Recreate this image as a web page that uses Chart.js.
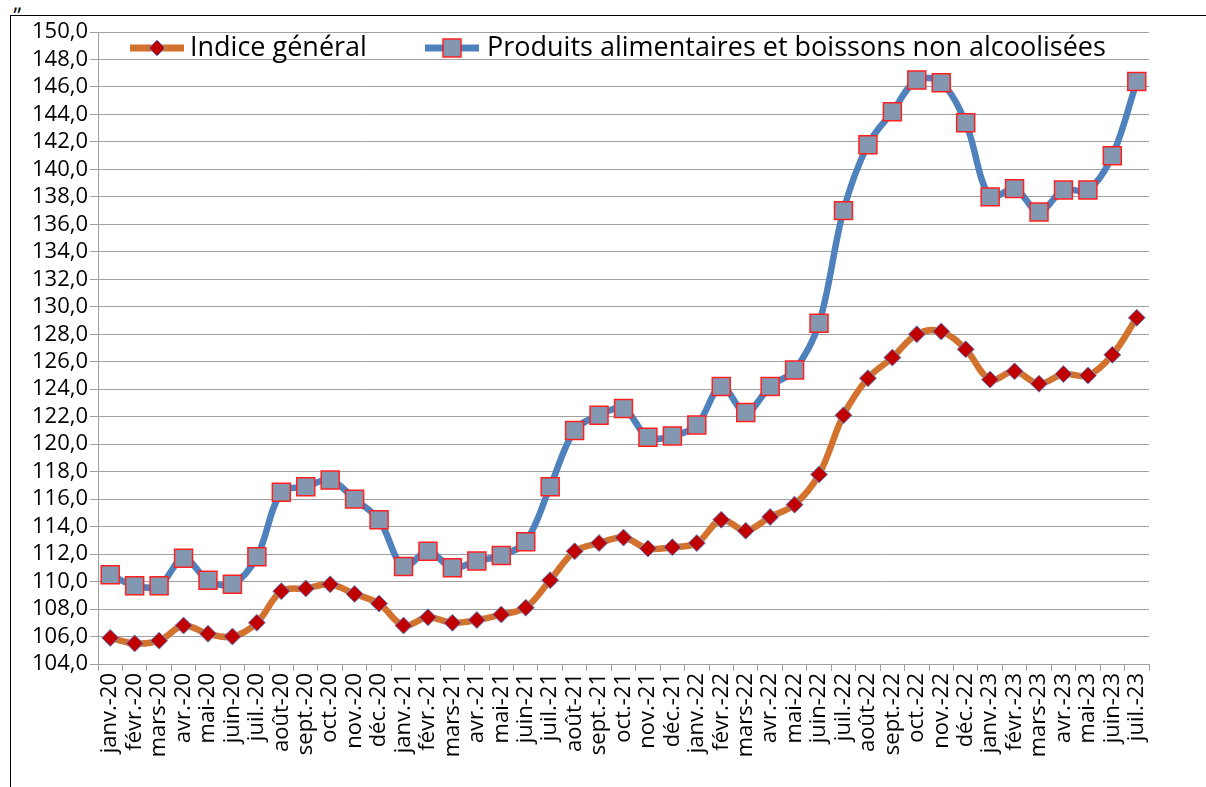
<!DOCTYPE html>
<html lang="fr">
<head>
<meta charset="utf-8">
<script src="https://cdn.jsdelivr.net/npm/chart.js@4.4.0/dist/chart.umd.min.js"></script>
<style>
  body { margin: 0; background: #fff; width: 1206px; height: 787px; overflow: hidden; position: relative; font-family: "Open Sans", sans-serif; }
  #cadre { position: absolute; left: 10px; top: 15px; width: 1210px; height: 790px; border: 1.5px solid #000; }
  #guillemet { position: absolute; left: 13px; top: -14px; font-size: 22px; color: #000; }
  #zone { position: absolute; left: 0; top: 0; width: 1206px; height: 787px; }
</style>
</head>
<body>
<div id="cadre"></div>
<span id="guillemet">„</span>
<div id="zone"><canvas id="graphique"></canvas></div>
<script>
const mois = [
  "janv.-20", "févr.-20", "mars-20", "avr.-20", "mai-20", "juin-20", "juil.-20", "août-20", "sept.-20", "oct.-20", "nov.-20", "déc.-20",
  "janv.-21", "févr.-21", "mars-21", "avr.-21", "mai-21", "juin-21", "juil.-21", "août-21", "sept.-21", "oct.-21", "nov.-21", "déc.-21",
  "janv.-22", "févr.-22", "mars-22", "avr.-22", "mai-22", "juin-22", "juil.-22", "août-22", "sept.-22", "oct.-22", "nov.-22", "déc.-22",
  "janv.-23", "févr.-23", "mars-23", "avr.-23", "mai-23", "juin-23", "juil.-23"
];

const indiceGeneral = [
  105.9, 105.5, 105.7, 106.8, 106.2, 106.0, 107.0, 109.3, 109.5, 109.8, 109.1, 108.4,
  106.8, 107.4, 107.0, 107.2, 107.6, 108.1, 110.1, 112.2, 112.8, 113.2, 112.4, 112.5,
  112.8, 114.5, 113.7, 114.7, 115.6, 117.8, 122.1, 124.8, 126.3, 128.0, 128.2, 126.9,
  124.7, 125.3, 124.4, 125.1, 125.0, 126.5, 129.2
];

const produitsAlimentaires = [
  110.5, 109.7, 109.7, 111.7, 110.1, 109.8, 111.8, 116.5, 116.9, 117.4, 116.0, 114.5,
  111.1, 112.2, 111.0, 111.5, 111.9, 112.9, 116.9, 121.0, 122.1, 122.6, 120.5, 120.6,
  121.4, 124.2, 122.3, 124.2, 125.4, 128.8, 137.0, 141.8, 144.2, 146.5, 146.3, 143.4,
  138.0, 138.6, 136.9, 138.5, 138.5, 141.0, 146.4
];

const nomsSeries = ["Indice général", "Produits alimentaires et boissons non alcoolisées"];
const axeMin = 104;
const axeMax = 150;
const pas = 2;

const orange = "#d2722d";
const bleu = "#4f81bd";
const gris = "#a0a0a0";

// légende dessinée dans la zone du graphique, comme dans Excel
const legendeInterne = {
  id: "legendeInterne",
  afterDatasetsDraw(chart) {
    const ctx = chart.ctx;
    const y = chart.chartArea.top + 16;
    const items = [{ ds: 0, x: 130, texte: 190 }, { ds: 1, x: 425, texte: 487 }];
    items.forEach(it => {
      const d = chart.data.datasets[it.ds];
      const cx = it.x + 27;
      ctx.save();
      ctx.strokeStyle = d.borderColor;
      ctx.lineWidth = 7;
      ctx.beginPath();
      ctx.moveTo(it.x, y);
      ctx.lineTo(it.x + 54, y);
      ctx.stroke();
      ctx.fillStyle = d.pointBackgroundColor;
      ctx.strokeStyle = d.pointBorderColor;
      ctx.lineWidth = d.pointBorderWidth;
      ctx.beginPath();
      if (d.pointStyle === "rectRot") {
        ctx.moveTo(cx, y - 8); ctx.lineTo(cx + 8, y); ctx.lineTo(cx, y + 8); ctx.lineTo(cx - 8, y); ctx.closePath();
      } else {
        ctx.rect(cx - 9, y - 9, 18, 18);
      }
      ctx.fill();
      ctx.stroke();
      ctx.fillStyle = "#000";
      ctx.font = '27px "Open Sans"';
      ctx.textBaseline = "alphabetic";
      ctx.fillText(d.label, it.texte, y + 8);
      ctx.restore();
    });
  }
};

const ctx = document.getElementById("graphique");
new Chart(ctx, {
  type: "line",
  data: {
    labels: mois,
    datasets: [
      {
        label: nomsSeries[0],
        data: indiceGeneral,
        borderColor: orange,
        borderWidth: 6.5,
        tension: 0.35,
        pointStyle: "rectRot",
        pointRadius: 8.5,
        pointBackgroundColor: "#c00000",
        pointBorderColor: "#5b8fd6",
        pointBorderWidth: 1
      },
      {
        label: nomsSeries[1],
        data: produitsAlimentaires,
        borderColor: bleu,
        borderWidth: 6.5,
        tension: 0.35,
        pointStyle: "rect",
        pointRadius: 12.7,
        pointBackgroundColor: "#8497b0",
        pointBorderColor: "#ff2020",
        pointBorderWidth: 1.5
      }
    ]
  },
  options: {
    responsive: true,
    maintainAspectRatio: false,
    animation: false,
    events: [],
    layout: { padding: { left: 10, top: 32, right: 57, bottom: 0 } },
    plugins: { legend: { display: false }, tooltip: { enabled: false } },
    scales: {
      x: {
        offset: true,
        grid: { drawOnChartArea: false, drawTicks: true, tickLength: 7, offset: true, color: gris },
        border: { display: true, color: gris, width: 1 },
        ticks: {
          autoSkip: false, minRotation: 90, maxRotation: 90, padding: 2,
          color: "#000", font: { family: "Open Sans", size: 22 }
        },
        afterFit: scale => { scale.height = 123; }
      },
      y: {
        min: axeMin,
        max: axeMax,
        grid: { color: gris, drawTicks: true, tickLength: 8 },
        border: { display: true, color: gris, width: 1 },
        ticks: {
          stepSize: pas, padding: 2, autoSkip: false,
          color: "#000", font: { family: "Open Sans", size: 22 },
          callback: v => v.toFixed(1).replace(".", ",")
        },
        afterFit: scale => { scale.width = 88; }
      }
    }
  },
  plugins: [legendeInterne]
});
</script>
</body>
</html>
